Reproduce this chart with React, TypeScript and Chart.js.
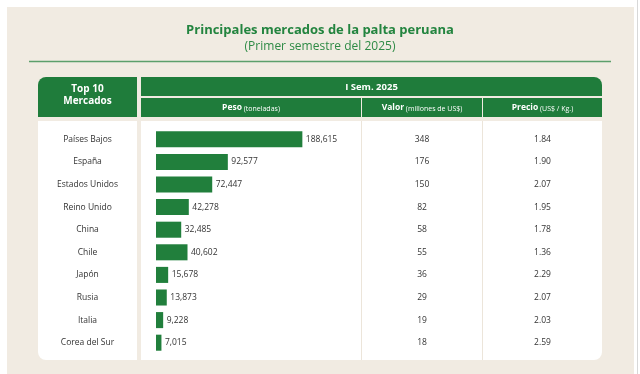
import React, { useEffect, useRef } from "react";
import { Chart, registerables } from "chart.js";

Chart.register(...registerables);

const mercados = [
  "Países Bajos",
  "España",
  "Estados Unidos",
  "Reino Unido",
  "China",
  "Chile",
  "Japón",
  "Rusia",
  "Italia",
  "Corea del Sur",
];
const peso = [188615, 92577, 72447, 42278, 32485, 40602, 15678, 13873, 9228, 7015];
const valor = [348, 176, 150, 82, 58, 55, 36, 29, 19, 18];
const precio = [1.84, 1.9, 2.07, 1.95, 1.78, 1.36, 2.29, 2.07, 2.03, 2.59];

const titulo = "Principales mercados de la palta peruana";
const subtitulo = "(Primer semestre del 2025)";
const cabeceraTop = ["Top 10", "Mercados"];
const cabeceraPeriodo = "I Sem. 2025";
const cabeceras: [string, string][] = [
  ["Peso", " (toneladas)"],
  ["Valor", " (millones de US$)"],
  ["Precio", " (US$ / Kg.)"],
];

const FONT = "'Open Sans', 'DejaVu Sans', sans-serif";
const HEADER_GREEN = "#1f7c3b";
const BAR_GREEN = "#217f3c";
const BEIGE = "#f1ebe2";
const TEXT = "#333333";

function rr(ctx: CanvasRenderingContext2D, x: number, y: number, w: number, h: number, r: number[]) {
  ctx.beginPath();
  (ctx as any).roundRect(x, y, w, h, r);
  ctx.fill();
}

const tablePlugin = {
  id: "tablePlugin",
  beforeDraw(chart: any) {
    const ctx: CanvasRenderingContext2D = chart.ctx;
    ctx.save();
    ctx.fillStyle = "#ffffff";
    ctx.fillRect(0, 0, chart.width, chart.height);
    ctx.fillStyle = BEIGE;
    ctx.fillRect(7, 7, 627, chart.height - 7);
    ctx.strokeStyle = "#d8d8d8";
    ctx.lineWidth = 1;
    ctx.beginPath();
    ctx.moveTo(637.5, 0);
    ctx.lineTo(637.5, chart.height);
    ctx.stroke();

    // green rule
    ctx.strokeStyle = "#5c9f6b";
    ctx.lineWidth = 1.5;
    ctx.beginPath();
    ctx.moveTo(29, 61.5);
    ctx.lineTo(611, 61.5);
    ctx.stroke();

    // header boxes
    ctx.fillStyle = HEADER_GREEN;
    rr(ctx, 38, 77, 99, 40, [8, 0, 0, 0]);
    rr(ctx, 141, 77, 461, 19, [0, 8, 0, 0]);
    ctx.fillRect(141, 98, 220, 19);
    ctx.fillRect(362, 98, 120, 19);
    ctx.fillRect(483, 98, 119, 19);

    // white panels
    ctx.fillStyle = "#ffffff";
    rr(ctx, 38, 121, 99, 239, [0, 0, 0, 8]);
    rr(ctx, 141, 121, 461, 239, [0, 0, 8, 0]);
    ctx.strokeStyle = "#ece5da";
    ctx.lineWidth = 1;
    ctx.beginPath();
    ctx.moveTo(361.5, 121);
    ctx.lineTo(361.5, 360);
    ctx.moveTo(482.5, 121);
    ctx.lineTo(482.5, 360);
    ctx.stroke();
    ctx.restore();
  },
  afterDraw(chart: any) {
    const ctx: CanvasRenderingContext2D = chart.ctx;
    const xs = chart.scales.x;
    const ys = chart.scales.y;
    ctx.save();
    ctx.textBaseline = "middle";
    ctx.textAlign = "center";

    ctx.fillStyle = "#23843f";
    ctx.font = `bold 13px ${FONT}`;
    ctx.fillText(titulo, 320, 30);
    ctx.fillStyle = "#2e8a45";
    ctx.font = `12px ${FONT}`;
    ctx.fillText(subtitulo, 320, 47);

    ctx.fillStyle = "#ffffff";
    ctx.font = `bold 10px ${FONT}`;
    ctx.fillText(cabeceraTop[0], 87.5, 89);
    ctx.fillText(cabeceraTop[1], 87.5, 101);
    ctx.font = `bold 9.5px ${FONT}`;
    ctx.fillText(cabeceraPeriodo, 371.5, 87);

    const centers = [251, 422, 542.5];
    ctx.textAlign = "left";
    cabeceras.forEach(([b, r], i) => {
      ctx.font = `bold 8.5px ${FONT}`;
      const wb = ctx.measureText(b).width;
      ctx.font = `7px ${FONT}`;
      const wr = ctx.measureText(r).width;
      const x0 = centers[i] - (wb + wr) / 2;
      ctx.font = `bold 8.5px ${FONT}`;
      ctx.fillText(b, x0, 108);
      ctx.font = `7px ${FONT}`;
      ctx.fillText(r, x0 + wb, 108.5);
    });

    ctx.fillStyle = TEXT;
    mercados.forEach((m, i) => {
      const y = ys.getPixelForValue(i);
      ctx.font = `8.5px ${FONT}`;
      ctx.textAlign = "center";
      ctx.fillText(m, 87.5, y);
      ctx.fillText(String(valor[i]), centers[1], y);
      ctx.fillText(precio[i].toFixed(2), centers[2], y);
      ctx.textAlign = "left";
      ctx.fillText(peso[i].toLocaleString("en-US"), xs.getPixelForValue(peso[i]) + 3.5, y);
    });
    ctx.restore();
  },
};

export default function App() {
  const ref = useRef<HTMLCanvasElement | null>(null);
  useEffect(() => {
    if (!ref.current) return;
    const chart = new Chart(ref.current, {
      type: "bar",
      data: {
        labels: mercados,
        datasets: [
          {
            data: peso,
            backgroundColor: BAR_GREEN,
            borderWidth: 0,
            barPercentage: 0.71,
            categoryPercentage: 1,
          },
        ],
      },
      options: {
        indexAxis: "y",
        responsive: false,
        animation: false,
        devicePixelRatio: 1,
        layout: { padding: { left: 156, right: 290, top: 128, bottom: 20 } },
        scales: {
          x: { display: false, min: 0, max: 250000 },
          y: { display: false },
        },
        plugins: { legend: { display: false }, tooltip: { enabled: false } },
      },
      plugins: [tablePlugin],
    } as any);
    return () => chart.destroy();
  }, []);
  return (
    <canvas
      ref={ref}
      width={640}
      height={374}
      style={{ position: "fixed", left: 0, top: 0, width: 640, height: 374, display: "block" }}
    />
  );
}
